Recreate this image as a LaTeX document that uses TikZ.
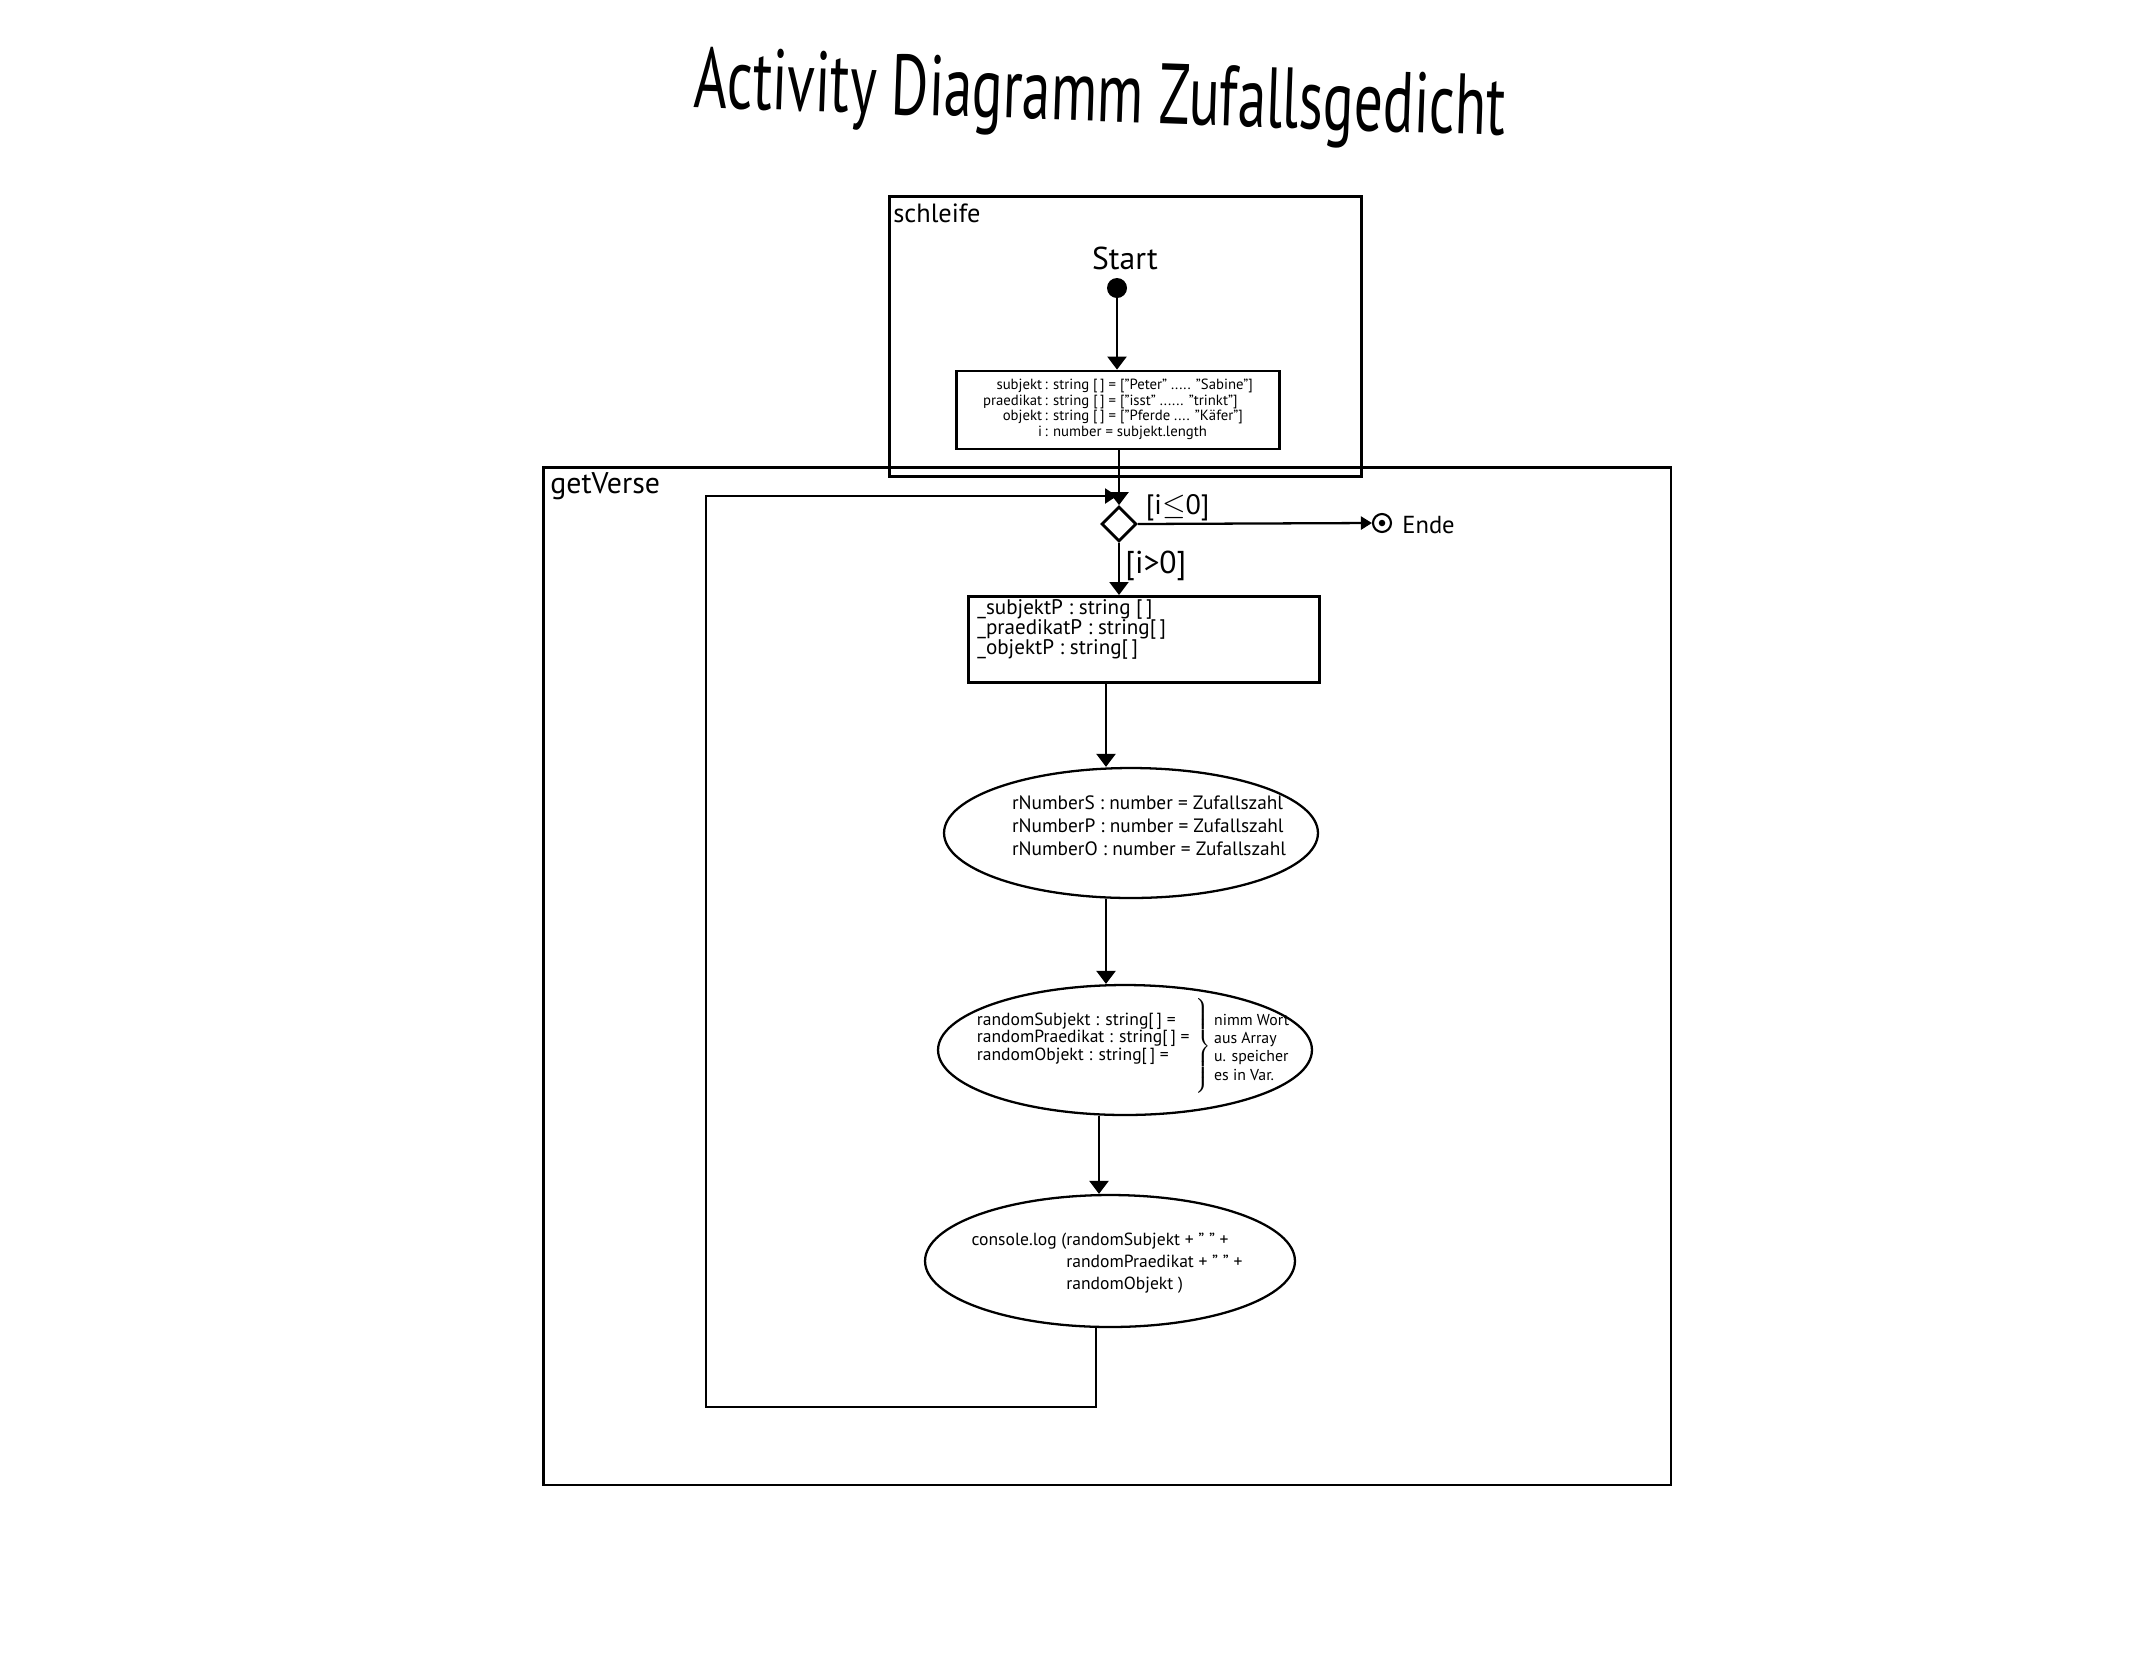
\documentclass[tikz,border=0pt]{standalone}
\usepackage{fontspec}
\usepackage{graphicx}
\setmainfont{PT Sans}
\usetikzlibrary{shapes.geometric,arrows.meta,calc}
\begin{document}
\begin{tikzpicture}[x=0.02cm,y=-0.02cm,
  frame/.style={draw, line width=1.5pt, inner sep=0, anchor=north west},
  framelabel/.style={anchor=west, inner sep=0, font=\fontsize{17}{18}\selectfont},
  actbox/.style={draw, line width=1.6pt, inner sep=0},
  ell/.style={draw, ellipse, line width=1.3pt, inner sep=0},
  etext/.style={inner sep=0, font=\fontsize{11}{13}\selectfont},
  conn/.style={line width=1.3pt, -{Triangle[width=0.38cm,length=0.26cm]}},
  smallconn/.style={line width=1.3pt, -{Triangle[width=0.26cm,length=0.22cm]}},
  plain/.style={line width=1.3pt},
  guard/.style={inner sep=0, font=\fontsize{16}{17}\selectfont}
]
\useasboundingbox (0,0) rectangle (2154,1668);
\fill[white] (0,0) rectangle (2154,1668);

% title
\node[rotate=-2, inner sep=0, font=\fontsize{32.5}{38}\selectfont] (title) at (1100,100)
  {\scalebox{1}[1.5]{Activity Diagramm Zufallsgedicht}};

% frames
\node[frame, minimum width=22.56cm, minimum height=20.36cm] (fGet) at (542,466) {};
\node[frame, minimum width=9.44cm, minimum height=5.6cm] (fSch) at (888,195) {};
\node[framelabel, font=\fontsize{15}{16}\selectfont] (lSch) at (893,213) {schleife};
\node[framelabel] (lGet) at (550,486) {getVerse};

% start
\node[inner sep=0, font=\fontsize{18}{19}\selectfont] (starttxt) at (1125,258) {Start};
\node[circle, fill, minimum size=0.4cm, inner sep=0] (start) at (1117,288) {};

% init box
\node[actbox, minimum width=6.46cm, minimum height=1.56cm, font=\fontsize{8.4}{8.8}\selectfont] (init) at (1118,410)
  {\begin{tabular}{@{}r@{\,}l@{}}
   subjekt & : string [\,] = ["Peter" ..... "Sabine"]\\
   praedikat & : string [\,] = ["isst" ...... "trinkt"]\\
   objekt & : string [\,] = ["Pferde .... "Käfer"]\\
   i & : number = subjekt.length
   \end{tabular}};

% decision
\node[diamond, draw, line width=1.6pt, minimum width=0.7cm, minimum height=0.7cm, inner sep=0] (dia) at (1119,524) {};

% end
\node[circle, draw, line width=1.2pt, minimum size=0.36cm, inner sep=0] (ende) at (1382,523) {};
\fill (ende.center) circle[radius=0.065cm];
\node[anchor=west, inner sep=0, font=\fontsize{14}{15}\selectfont] (endetxt) at (1402,525) {Ende};

% declarations box
\node[actbox, anchor=north west, minimum width=7.02cm, minimum height=1.72cm, font=\fontsize{12}{11.2}\selectfont] (b2) at (967,595)
  {\parbox[c][1.72cm][t]{6.9cm}{\lineskiplimit=-20pt\setlength{\leftskip}{0.12cm}\vspace*{2pt}%
   \_subjektP : string [\,]\\
   \_praedikatP : string[\,]\\
   \_objektP : string[\,]}};

% ellipses
\node[ell, minimum width=7.48cm, minimum height=2.6cm] (e1) at (1131,833) {};
\node[etext, align=left] (e1t) at (1149,826)
  {rNumberS : number = Zufallszahl\\
   rNumberP : number = Zufallszahl\\
   rNumberO : number = Zufallszahl};

\node[ell, minimum width=7.48cm, minimum height=2.6cm] (e2) at (1125,1050) {};
\node[etext, font=\fontsize{10}{9.6}\selectfont] (e2t) at (1133,1046)
  {\begin{tabular}[t]{@{}l@{}}
   randomSubjekt : string[\,] =\\
   randomPraedikat : string[\,] =\\
   randomObjekt : string[\,] =
   \end{tabular}\hspace{2pt}\raisebox{-0.5cm}{$\left.\rule[-0.85cm]{0pt}{1.7cm}\right\}$}\hspace{2pt}{\fontsize{9}{10.4}\selectfont\begin{tabular}[t]{@{}l@{}}
   nimm Wort\\ aus Array\\ u. speicher\\ es in Var.
   \end{tabular}}};

\node[ell, minimum width=7.4cm, minimum height=2.64cm] (e3) at (1110,1261) {};
\node[etext, font=\fontsize{10}{12.5}\selectfont] (e3t) at (1107,1263)
  {console.log (\begin{tabular}[t]{@{}l@{}}
   randomSubjekt + " " +\\
   randomPraedikat + " " +\\
   randomObjekt )
   \end{tabular}};

% axis coordinates
\coordinate (axA) at (1106,0);
\coordinate (axB) at (1099,0);
\coordinate (loopBR) at (1096,1407);
\coordinate (loopBL) at (706,1407);
\coordinate (loopTL) at (706,496);
\coordinate (loopJoin) at (1117,496);

% connectors
\draw[conn] (start) -- (init.north -| start);
\draw[conn] (init.south -| dia) -- (dia.north);
\draw[smallconn] (dia.east) -- (ende.west)
  node[guard, pos=0.17, above=1pt] (lle) {[i$\leq$0]};
\draw[conn] (dia.south) -- (dia.south |- b2.north)
  node[guard, font=\fontsize{18}{19}\selectfont, pos=0.45, right=3pt] (lgt) {[i>0]};
\draw[conn] (b2.south -| axA) -- (e1.north -| axA);
\draw[conn] (e1.south -| axA) -- (e2.north -| axA);
\draw[conn] (e2.south -| axB) -- (e3.north -| axB);
\draw[plain, -{Triangle[width=0.3cm,length=0.24cm]}] (e3.south -| loopBR) -- (loopBR) -- (loopBL) -- (loopTL) -- (loopJoin);
\end{tikzpicture}
\end{document}
